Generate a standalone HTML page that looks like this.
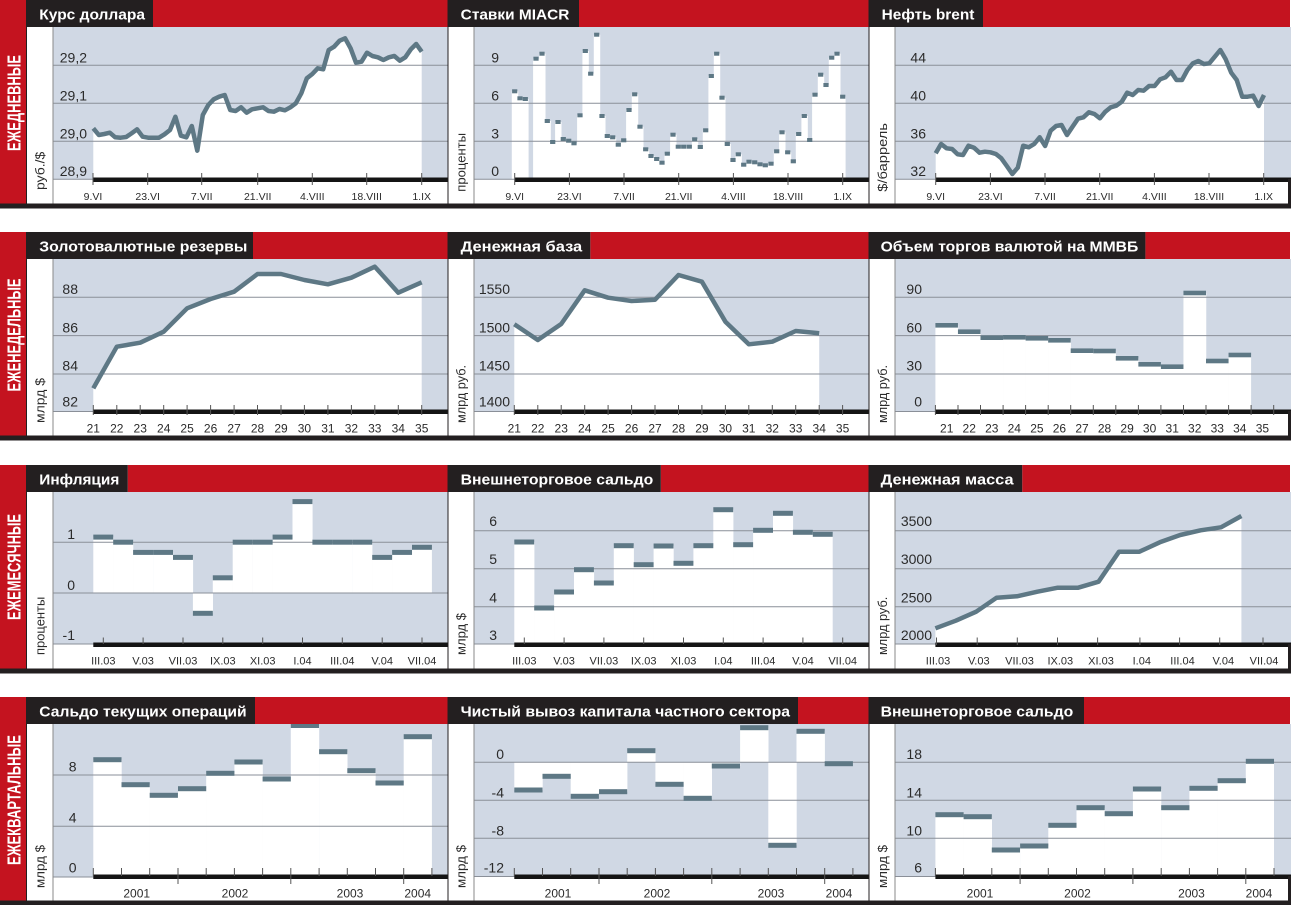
<!DOCTYPE html>
<html><head><meta charset="utf-8"><style>
html,body{margin:0;padding:0;background:#fff;}
svg{display:block;}
text{font-family:"Liberation Sans",sans-serif;}
.t{fill:#fff;font-weight:bold;font-size:15px;}
.s{fill:#fff;font-weight:bold;font-size:18px;}
.y{fill:#2b2b2b;font-size:14px;text-anchor:end;}
.u{fill:#2b2b2b;font-size:13px;}
.x1{fill:#2b2b2b;font-size:10.5px;text-anchor:middle;}
.x2{fill:#2b2b2b;font-size:12px;text-anchor:middle;}
.x3{fill:#2b2b2b;font-size:11px;text-anchor:middle;}
.x4{fill:#2b2b2b;font-size:12px;text-anchor:middle;}
</style></head><body>
<svg width="1291" height="905" viewBox="0 0 1291 905" xmlns="http://www.w3.org/2000/svg">
<rect width="1291" height="905" fill="#fff"/>

<!-- ================= ROW FRAMES ================= -->
<g fill="#d0d8e4">
<rect x="53" y="27" width="394.5" height="152.5"/>
<rect x="474" y="27" width="394.5" height="152.5"/>
<rect x="895" y="27" width="396" height="152.5"/>
<rect x="53" y="259" width="394.5" height="152.5"/>
<rect x="474" y="259" width="394.5" height="152.5"/>
<rect x="895" y="259" width="396" height="152.5"/>
<rect x="53" y="492" width="394.5" height="152.5"/>
<rect x="474" y="492" width="394.5" height="152.5"/>
<rect x="895" y="492" width="396" height="152.5"/>
<rect x="53" y="724" width="394.5" height="152.5"/>
<rect x="474" y="724" width="394.5" height="152.5"/>
<rect x="895" y="724" width="396" height="152.5"/>
</g>

<!-- ================= WHITE FILLS ================= -->
<g fill="#fff">
<!-- R1C1 -->
<polygon points="93.3,128.3 98.8,135 104.3,134 109.8,132.7 115.2,137.3 120.7,137.7 126.2,137 131.6,133.3 137.1,129.3 142.6,136.7 148.1,137.7 153.5,137.7 159,137.7 164.5,134.3 170,130 175.4,116.7 180.9,135.7 186.4,137.3 191.8,126 197.3,150.7 202.8,115 208.3,105 213.7,99.3 219.2,96.7 224.7,95 230.2,110 235.6,111 241.1,107.3 246.6,112.7 252,109.3 257.5,108.3 263,107.3 268.5,111 273.9,111.7 279.4,109 284.9,110.3 290.4,107.3 295.8,103.3 301.3,93.3 306.8,78.3 312.3,74 317.7,68.3 323.2,69.3 328.7,50 334.1,46.7 339.6,40.7 345.1,38.3 350.6,48.3 356,62.7 361.5,61.7 367,52.7 372.4,56 377.9,57.3 383.4,60 388.9,57.3 394.3,56 399.8,60.7 405.3,57.3 410.8,49.3 416.2,44 421.7,51.7 421.7,179 93.3,179"/>
<!-- R1C2 -->
<rect x="511.8" y="91.3" width="6.4" height="87.7"/><rect x="517.1" y="98.3" width="6.4" height="80.7"/><rect x="522.4" y="99" width="6.2" height="80"/>
<rect x="533.1" y="58.7" width="6.4" height="120.3"/><rect x="539.1" y="53.7" width="6.4" height="125.3"/><rect x="544.4" y="121" width="6.4" height="58"/>
<rect x="549.8" y="142" width="6.4" height="37"/><rect x="555.1" y="122" width="6.4" height="57"/><rect x="560.4" y="139" width="6.4" height="40"/>
<rect x="565.8" y="140.7" width="6.4" height="38.3"/><rect x="571.1" y="143.3" width="6.4" height="35.7"/><rect x="577.1" y="115.3" width="6.4" height="63.7"/>
<rect x="582.4" y="51" width="6.4" height="128"/><rect x="587.8" y="73.7" width="6.4" height="105.3"/><rect x="593.8" y="34.7" width="6.4" height="144.3"/>
<rect x="599.1" y="116" width="6.4" height="63"/><rect x="604.4" y="136" width="6.4" height="43"/><rect x="609.8" y="137.3" width="6.4" height="41.7"/>
<rect x="615.4" y="144.7" width="6.4" height="34.3"/><rect x="620.8" y="140.3" width="6.4" height="38.7"/><rect x="626.1" y="110" width="6.4" height="69"/>
<rect x="631.8" y="94.3" width="6.4" height="84.7"/><rect x="637.1" y="126.7" width="6.4" height="52.3"/><rect x="642.8" y="149.3" width="6.4" height="29.7"/>
<rect x="648.1" y="156" width="6.4" height="23"/><rect x="653.8" y="159" width="6.4" height="20"/><rect x="659.1" y="162.7" width="6.4" height="16.3"/>
<rect x="664.4" y="153.7" width="6.4" height="25.3"/><rect x="670.1" y="134.7" width="6.4" height="44.3"/><rect x="675.4" y="146.7" width="6.4" height="32.3"/>
<rect x="680.8" y="146.7" width="6.4" height="32.3"/><rect x="686.4" y="146.7" width="6.4" height="32.3"/><rect x="691.8" y="139.3" width="6.4" height="39.7"/>
<rect x="697.4" y="147" width="6.4" height="32"/><rect x="702.8" y="130.3" width="6.4" height="48.7"/><rect x="708.4" y="76" width="6.4" height="103"/>
<rect x="713.8" y="53.7" width="6.4" height="125.3"/><rect x="719.1" y="97.7" width="6.4" height="81.3"/><rect x="724.4" y="144" width="6.4" height="35"/>
<rect x="730.1" y="160" width="6.4" height="19"/><rect x="735.4" y="154.3" width="6.4" height="24.7"/><rect x="740.8" y="164.7" width="6.4" height="14.3"/>
<rect x="746.1" y="161.7" width="6.4" height="17.3"/><rect x="751.8" y="162.3" width="6.4" height="16.7"/><rect x="757.1" y="164.3" width="6.4" height="14.7"/>
<rect x="762.4" y="165.3" width="6.4" height="13.7"/><rect x="768.1" y="163.7" width="6.4" height="15.3"/><rect x="773.8" y="151.3" width="6.4" height="27.7"/>
<rect x="779.1" y="132.3" width="6.4" height="46.7"/><rect x="784.8" y="152.3" width="6.4" height="26.7"/><rect x="790.4" y="161.3" width="6.4" height="17.7"/>
<rect x="795.8" y="134" width="6.4" height="45"/><rect x="801.4" y="116" width="6.4" height="63"/><rect x="806.8" y="140" width="6.4" height="39"/>
<rect x="812.1" y="94.7" width="6.4" height="84.3"/><rect x="817.8" y="74.7" width="6.4" height="104.3"/><rect x="823.1" y="85" width="6.4" height="94"/>
<rect x="828.8" y="57.7" width="6.4" height="121.3"/><rect x="834.1" y="53.7" width="6.4" height="125.3"/><rect x="839.8" y="96.7" width="5.8" height="82.3"/>
<!-- R1C3 -->
<polygon points="935.7,153.3 941.1,144 946.6,148.3 952.1,149 957.6,154.3 963,155 968.5,145.7 974,147.7 979.5,152.7 984.9,151.7 990.4,152.3 995.9,154 1001.3,158.3 1006.8,166 1012.3,174 1017.8,167.7 1023.2,145.7 1028.7,147.3 1034.2,144 1039.7,137.3 1045.1,146 1050.6,130.7 1056.1,126 1061.5,125 1067,135 1072.5,126.7 1078,118.7 1083.4,117.3 1088.9,112.3 1094.4,114 1099.9,118.3 1105.3,111.7 1110.8,107.3 1116.3,105.7 1121.8,101.7 1127.2,92.7 1132.7,95 1138.2,90 1143.6,90.7 1149.1,86 1154.6,86 1160.1,79.3 1165.5,77.3 1171,71.7 1176.5,80 1182,80 1187.4,70 1192.9,63.3 1198.4,61 1203.9,64 1209.3,63.3 1214.8,56.7 1220.3,50 1225.7,59.3 1231.2,72.7 1236.7,80 1242.2,96.7 1247.6,96.7 1253.1,95.7 1258.6,106 1264,95 1264,179 935.7,179"/>
<!-- R2C1 -->
<polygon points="93.3,388.3 116.8,346.7 140.2,342.7 163.7,331.7 187.1,308.3 210.6,299 234.1,291.7 257.5,274 281,274 304.4,280 327.9,284.3 351.4,277.7 374.8,266.7 398.3,292.7 421.7,282.3 421.7,411 93.3,411"/>
<!-- R2C2 -->
<polygon points="514.3,324.3 537.8,340 561.2,324 584.7,290.3 608.1,297.7 631.6,301 655,299.7 678.5,275 701.9,281.7 725.4,321.7 748.8,344.3 772.3,341.7 795.7,331 819.2,333.3 819.2,411 514.3,411"/>
<!-- R2C3 -->
<rect x="935.4" y="325.3" width="22.8" height="86.2"/><rect x="957.95" y="331.7" width="22.8" height="79.8"/><rect x="980.5" y="337.7" width="22.8" height="73.8"/>
<rect x="1003.05" y="337.3" width="22.8" height="74.2"/><rect x="1025.6" y="338.3" width="22.8" height="73.2"/><rect x="1048.15" y="340.3" width="22.8" height="71.2"/>
<rect x="1070.7" y="350.7" width="22.8" height="60.8"/><rect x="1093.25" y="351" width="22.8" height="60.5"/><rect x="1115.8" y="358.3" width="22.8" height="53.2"/>
<rect x="1138.35" y="364.3" width="22.8" height="47.2"/><rect x="1160.9" y="366.7" width="22.8" height="44.8"/><rect x="1183.45" y="293" width="22.8" height="118.5"/>
<rect x="1206" y="361" width="22.8" height="50.5"/><rect x="1228.55" y="355" width="22.55" height="56.5"/>
<!-- R3C1 -->
<rect x="93.3" y="537.1" width="20.1" height="55.9"/><rect x="113.2" y="542.2" width="20.1" height="50.8"/><rect x="133.1" y="552.4" width="20.1" height="40.6"/>
<rect x="153.1" y="552.4" width="20.1" height="40.6"/><rect x="173" y="557.4" width="20.1" height="35.6"/><rect x="192.9" y="593" width="20.1" height="20.3"/>
<rect x="212.8" y="577.8" width="20.1" height="15.2"/><rect x="232.7" y="542.2" width="20.1" height="50.8"/><rect x="252.7" y="542.2" width="20.1" height="50.8"/>
<rect x="272.6" y="537.1" width="20.1" height="55.9"/><rect x="292.5" y="501.6" width="20.1" height="91.4"/><rect x="312.4" y="542.2" width="20.1" height="50.8"/>
<rect x="332.3" y="542.2" width="20.1" height="50.8"/><rect x="352.3" y="542.2" width="20.1" height="50.8"/><rect x="372.2" y="557.4" width="20.1" height="35.6"/>
<rect x="392.1" y="552.4" width="20.1" height="40.6"/><rect x="412" y="547.3" width="19.9" height="45.7"/>
<!-- R3C2 -->
<rect x="514.3" y="542" width="20.1" height="102"/><rect x="534.2" y="608" width="20.1" height="36"/><rect x="554.1" y="592" width="20.1" height="52"/>
<rect x="574" y="569.7" width="20.1" height="74.3"/><rect x="593.9" y="583" width="20.1" height="61"/><rect x="613.8" y="545.7" width="20.1" height="98.3"/>
<rect x="633.7" y="564.7" width="20.1" height="79.3"/><rect x="653.6" y="546" width="20.1" height="98"/><rect x="673.5" y="563.3" width="20.1" height="80.7"/>
<rect x="693.4" y="545.7" width="20.1" height="98.3"/><rect x="713.3" y="509.7" width="20.1" height="134.3"/><rect x="733.2" y="544.7" width="20.1" height="99.3"/>
<rect x="753.1" y="530.3" width="20.1" height="113.7"/><rect x="773" y="513.3" width="20.1" height="130.7"/><rect x="792.9" y="532.3" width="20.1" height="111.7"/>
<rect x="812.8" y="534.3" width="19.9" height="109.7"/>
<!-- R3C3 -->
<polygon points="935.4,628.3 955.8,620.7 976.2,611.7 996.6,597.7 1017,596.3 1037.4,591.7 1057.8,587.7 1078.2,587.7 1098.6,581.7 1119,551.7 1139.4,551.7 1159.8,542.3 1180.2,535 1200.6,530.3 1221,527.3 1241.4,516 1241.4,644 935.4,644"/>
<!-- R4C1 -->
<rect x="93.3" y="759.7" width="28.4" height="117.3"/><rect x="121.5" y="784.7" width="28.4" height="92.3"/><rect x="149.7" y="795.3" width="28.4" height="81.7"/>
<rect x="178" y="788.7" width="28.4" height="88.3"/><rect x="206.2" y="773.3" width="28.4" height="103.7"/><rect x="234.4" y="762" width="28.4" height="115"/>
<rect x="262.6" y="779" width="28.4" height="98"/><rect x="290.8" y="725.5" width="28.4" height="151.5"/><rect x="319.1" y="751.7" width="28.4" height="125.3"/>
<rect x="347.3" y="770.7" width="28.4" height="106.3"/><rect x="375.5" y="783" width="28.4" height="94"/><rect x="403.7" y="736.7" width="28.2" height="140.3"/>
<!-- R4C2 -->
<rect x="514.3" y="762.3" width="28.4" height="27.7"/><rect x="542.5" y="762.3" width="28.4" height="14"/><rect x="570.7" y="762.3" width="28.4" height="34"/>
<rect x="599" y="762.3" width="28.4" height="29.4"/><rect x="627.2" y="750.7" width="28.4" height="11.6"/><rect x="655.4" y="762.3" width="28.4" height="22"/>
<rect x="683.6" y="762.3" width="28.4" height="36"/><rect x="711.8" y="762.3" width="28.4" height="3.7"/><rect x="740.1" y="727.7" width="28.4" height="34.6"/>
<rect x="768.3" y="762.3" width="28.4" height="83"/><rect x="796.5" y="731.3" width="28.4" height="31"/><rect x="824.7" y="762.3" width="28.2" height="1.4"/>
<!-- R4C3 -->
<rect x="935.4" y="814.7" width="28.4" height="61.8"/><rect x="963.6" y="816.7" width="28.4" height="59.8"/><rect x="991.8" y="850" width="28.4" height="26.5"/>
<rect x="1020.1" y="846" width="28.4" height="30.5"/><rect x="1048.3" y="825.3" width="28.4" height="51.2"/><rect x="1076.5" y="807.7" width="28.4" height="68.8"/>
<rect x="1104.7" y="813.7" width="28.4" height="62.8"/><rect x="1132.9" y="789" width="28.4" height="87.5"/><rect x="1161.2" y="807.7" width="28.4" height="68.8"/>
<rect x="1189.4" y="788.3" width="28.4" height="88.2"/><rect x="1217.6" y="780.7" width="28.4" height="95.8"/><rect x="1245.8" y="761.3" width="28.2" height="115.2"/>
</g>

<!-- ================= GRID LINES ================= -->
<g stroke="#8a8f98" stroke-width="1" fill="none">
<path d="M53 65.3H447.5M53 103.3H447.5M53 141.3H447.5M53 179.3H447.5"/>
<path d="M474 65.3H868.5M474 103.3H868.5M474 141.3H868.5M474 179.3H868.5"/>
<path d="M895 65.3H1291M895 103.3H1291M895 141.3H1291M895 179.3H1291"/>
<path d="M53 297.3H447.5M53 335.6H447.5M53 374H447.5M53 411.5H447.5"/>
<path d="M474 297.3H868.5M474 335.6H868.5M474 374H868.5M474 411.5H868.5"/>
<path d="M895 297.3H1291M895 335.6H1291M895 374H1291M895 411.5H1291"/>
<path d="M53 542.3H447.5M53 593H447.5M53 644H447.5"/>
<path d="M474 530.7H868.5M474 568.7H868.5M474 606.7H868.5M474 644H868.5"/>
<path d="M895 530.7H1291M895 568.7H1291M895 606.7H1291M895 644H1291"/>
<path d="M53 775H447.5M53 826.3H447.5M53 877H447.5"/>
<path d="M474 762.3H868.5M474 800.3H868.5M474 838.3H868.5M474 876.5H868.5"/>
<path d="M895 762.3H1291M895 800.3H1291M895 838.3H1291M895 876.5H1291"/>
</g>

<!-- ================= AXIS BARS ================= -->
<g fill="#141414">
<rect x="93.3" y="177.5" width="354.2" height="4.5"/>
<rect x="514.7" y="177.5" width="353.8" height="4.5"/>
<rect x="935.7" y="177.5" width="355.3" height="4.5"/>
<rect x="93.3" y="409.5" width="354.2" height="4.5"/>
<rect x="514.3" y="409.5" width="354.2" height="4.5"/>
<rect x="935.4" y="409.5" width="355.6" height="4.5"/>
<rect x="93.3" y="642.5" width="354.2" height="4.5"/>
<rect x="514.3" y="642.5" width="354.2" height="4.5"/>
<rect x="935.4" y="642.5" width="355.6" height="4.5"/>
<rect x="93.3" y="874.5" width="354.2" height="4.5"/>
<rect x="514.3" y="874.5" width="354.2" height="4.5"/>
<rect x="935.4" y="874.5" width="355.6" height="4.5"/>
</g>

<!-- ================= TICKS ================= -->
<g stroke="#555" stroke-width="1" fill="none">
<path d="M93 173V185M147.7 173V185M201.7 173V185M257.7 173V185M312.3 173V185M366.7 173V185M421.7 173V185"/>
<path d="M514.7 173V185M569.4 173V185M624 173V185M678.7 173V185M733.4 173V185M788 173V185M842.7 173V185"/>
<path d="M935.7 173V185M990.4 173V185M1045 173V185M1099.7 173V185M1154.4 173V185M1209 173V185M1263.7 173V185"/>
<path d="M93.3 405V415M116.8 405V415M140.2 405V415M163.7 405V415M187.1 405V415M210.6 405V415M234.1 405V415M257.5 405V415M281 405V415M304.4 405V415M327.9 405V415M351.4 405V415M374.8 405V415M398.3 405V415M421.7 405V415"/>
<path d="M514.3 405V415M537.8 405V415M561.2 405V415M584.7 405V415M608.1 405V415M631.6 405V415M655 405V415M678.5 405V415M701.9 405V415M725.4 405V415M748.8 405V415M772.3 405V415M795.7 405V415M819.2 405V415M842.6 405V415"/>
<path d="M935.4 405V415M958 405V415M980.5 405V415M1003.1 405V415M1025.6 405V415M1048.2 405V415M1070.7 405V415M1093.3 405V415M1115.8 405V415M1138.4 405V415M1160.9 405V415M1183.5 405V415M1206 405V415M1228.6 405V415M1251.1 405V415M1273.7 405V415"/>
<path d="M103.3 637.5V644M143.1 637.5V644M183 637.5V644M222.8 637.5V644M262.7 637.5V644M302.5 637.5V644M342.3 637.5V644M382.2 637.5V644M422 637.5V644"/>
<path d="M524.3 637.5V644M564.1 637.5V644M603.9 637.5V644M643.7 637.5V644M683.5 637.5V644M723.3 637.5V644M763.1 637.5V644M802.9 637.5V644M842.7 637.5V644"/>
<path d="M936.5 637.5V645M977.2 637.5V645M1017.3 637.5V645M1057.5 637.5V645M1097.6 637.5V645M1139.9 637.5V645M1179.6 637.5V645M1219.7 637.5V645M1263 637.5V645"/>
<path d="M93.3 868V876M121.5 868V876M149.7 868V876M178 868V884M206.2 868V876M234.4 868V876M262.6 868V876M290.8 868V884M319.1 868V876M347.3 868V876M375.5 868V876M403.7 868V884M431.9 868V876"/>
<path d="M514.3 868V876M542.5 868V876M570.7 868V876M599 868V884M627.2 868V876M655.4 868V876M683.6 868V876M711.8 868V884M740.1 868V876M768.3 868V876M796.5 868V876M824.7 868V884M852.9 868V876"/>
<path d="M935.4 868V876M963.6 868V876M991.8 868V876M1020.1 868V884M1048.3 868V876M1076.5 868V876M1104.7 868V876M1132.9 868V884M1161.2 868V876M1189.4 868V876M1217.6 868V876M1245.8 868V884M1274 868V876"/>
</g>

<!-- ================= DATA LINES ================= -->
<g stroke="#5e7885" stroke-width="4.5" fill="none" stroke-linejoin="round" stroke-linecap="butt">
<polyline points="93.3,128.3 98.8,135 104.3,134 109.8,132.7 115.2,137.3 120.7,137.7 126.2,137 131.6,133.3 137.1,129.3 142.6,136.7 148.1,137.7 153.5,137.7 159,137.7 164.5,134.3 170,130 175.4,116.7 180.9,135.7 186.4,137.3 191.8,126 197.3,150.7 202.8,115 208.3,105 213.7,99.3 219.2,96.7 224.7,95 230.2,110 235.6,111 241.1,107.3 246.6,112.7 252,109.3 257.5,108.3 263,107.3 268.5,111 273.9,111.7 279.4,109 284.9,110.3 290.4,107.3 295.8,103.3 301.3,93.3 306.8,78.3 312.3,74 317.7,68.3 323.2,69.3 328.7,50 334.1,46.7 339.6,40.7 345.1,38.3 350.6,48.3 356,62.7 361.5,61.7 367,52.7 372.4,56 377.9,57.3 383.4,60 388.9,57.3 394.3,56 399.8,60.7 405.3,57.3 410.8,49.3 416.2,44 421.7,51.7"/>
<polyline points="935.7,153.3 941.1,144 946.6,148.3 952.1,149 957.6,154.3 963,155 968.5,145.7 974,147.7 979.5,152.7 984.9,151.7 990.4,152.3 995.9,154 1001.3,158.3 1006.8,166 1012.3,174 1017.8,167.7 1023.2,145.7 1028.7,147.3 1034.2,144 1039.7,137.3 1045.1,146 1050.6,130.7 1056.1,126 1061.5,125 1067,135 1072.5,126.7 1078,118.7 1083.4,117.3 1088.9,112.3 1094.4,114 1099.9,118.3 1105.3,111.7 1110.8,107.3 1116.3,105.7 1121.8,101.7 1127.2,92.7 1132.7,95 1138.2,90 1143.6,90.7 1149.1,86 1154.6,86 1160.1,79.3 1165.5,77.3 1171,71.7 1176.5,80 1182,80 1187.4,70 1192.9,63.3 1198.4,61 1203.9,64 1209.3,63.3 1214.8,56.7 1220.3,50 1225.7,59.3 1231.2,72.7 1236.7,80 1242.2,96.7 1247.6,96.7 1253.1,95.7 1258.6,106 1264,95"/>
<polyline points="93.3,388.3 116.8,346.7 140.2,342.7 163.7,331.7 187.1,308.3 210.6,299 234.1,291.7 257.5,274 281,274 304.4,280 327.9,284.3 351.4,277.7 374.8,266.7 398.3,292.7 421.7,282.3"/>
<polyline points="514.3,324.3 537.8,340 561.2,324 584.7,290.3 608.1,297.7 631.6,301 655,299.7 678.5,275 701.9,281.7 725.4,321.7 748.8,344.3 772.3,341.7 795.7,331 819.2,333.3"/>
<polyline points="935.4,628.3 955.8,620.7 976.2,611.7 996.6,597.7 1017,596.3 1037.4,591.7 1057.8,587.7 1078.2,587.7 1098.6,581.7 1119,551.7 1139.4,551.7 1159.8,542.3 1180.2,535 1200.6,530.3 1221,527.3 1241.4,516"/>
</g>

<!-- ================= DASHES / STEP BARS ================= -->
<g fill="#5e7885">
<!-- R1C2 -->
<rect x="512.1" y="89.3" width="5.2" height="4"/><rect x="517.4" y="96.3" width="5.2" height="4"/><rect x="522.7" y="97" width="5.2" height="4"/>
<rect x="533.4" y="56.7" width="5.2" height="4"/><rect x="539.4" y="51.7" width="5.2" height="4"/><rect x="544.7" y="119" width="5.2" height="4"/>
<rect x="550.1" y="140" width="5.2" height="4"/><rect x="555.4" y="120" width="5.2" height="4"/><rect x="560.7" y="137" width="5.2" height="4"/>
<rect x="566.1" y="138.7" width="5.2" height="4"/><rect x="571.4" y="141.3" width="5.2" height="4"/><rect x="577.4" y="113.3" width="5.2" height="4"/>
<rect x="582.7" y="49" width="5.2" height="4"/><rect x="588.1" y="71.7" width="5.2" height="4"/><rect x="594.1" y="32.7" width="5.2" height="4"/>
<rect x="599.4" y="114" width="5.2" height="4"/><rect x="604.7" y="134" width="5.2" height="4"/><rect x="610.1" y="135.3" width="5.2" height="4"/>
<rect x="615.7" y="142.7" width="5.2" height="4"/><rect x="621.1" y="138.3" width="5.2" height="4"/><rect x="626.4" y="108" width="5.2" height="4"/>
<rect x="632.1" y="92.3" width="5.2" height="4"/><rect x="637.4" y="124.7" width="5.2" height="4"/><rect x="643.1" y="147.3" width="5.2" height="4"/>
<rect x="648.4" y="154" width="5.2" height="4"/><rect x="654.1" y="157" width="5.2" height="4"/><rect x="659.4" y="160.7" width="5.2" height="4"/>
<rect x="664.7" y="151.7" width="5.2" height="4"/><rect x="670.4" y="132.7" width="5.2" height="4"/><rect x="675.7" y="144.7" width="5.2" height="4"/>
<rect x="681.1" y="144.7" width="5.2" height="4"/><rect x="686.7" y="144.7" width="5.2" height="4"/><rect x="692.1" y="137.3" width="5.2" height="4"/>
<rect x="697.7" y="145" width="5.2" height="4"/><rect x="703.1" y="128.3" width="5.2" height="4"/><rect x="708.7" y="74" width="5.2" height="4"/>
<rect x="714.1" y="51.7" width="5.2" height="4"/><rect x="719.4" y="95.7" width="5.2" height="4"/><rect x="724.7" y="142" width="5.2" height="4"/>
<rect x="730.4" y="158" width="5.2" height="4"/><rect x="735.7" y="152.3" width="5.2" height="4"/><rect x="741.1" y="162.7" width="5.2" height="4"/>
<rect x="746.4" y="159.7" width="5.2" height="4"/><rect x="752.1" y="160.3" width="5.2" height="4"/><rect x="757.4" y="162.3" width="5.2" height="4"/>
<rect x="762.7" y="163.3" width="5.2" height="4"/><rect x="768.4" y="161.7" width="5.2" height="4"/><rect x="774.1" y="149.3" width="5.2" height="4"/>
<rect x="779.4" y="130.3" width="5.2" height="4"/><rect x="785.1" y="150.3" width="5.2" height="4"/><rect x="790.7" y="159.3" width="5.2" height="4"/>
<rect x="796.1" y="132" width="5.2" height="4"/><rect x="801.7" y="114" width="5.2" height="4"/><rect x="807.1" y="138" width="5.2" height="4"/>
<rect x="812.4" y="92.7" width="5.2" height="4"/><rect x="818.1" y="72.7" width="5.2" height="4"/><rect x="823.4" y="83" width="5.2" height="4"/>
<rect x="829.1" y="55.7" width="5.2" height="4"/><rect x="834.4" y="51.7" width="5.2" height="4"/><rect x="840.1" y="94.7" width="5.2" height="4"/>
<!-- R2C3 -->
<rect x="935.4" y="323" width="22.55" height="4.6"/><rect x="957.95" y="329.4" width="22.55" height="4.6"/><rect x="980.5" y="335.4" width="22.55" height="4.6"/>
<rect x="1003.05" y="335" width="22.55" height="4.6"/><rect x="1025.6" y="336" width="22.55" height="4.6"/><rect x="1048.15" y="338" width="22.55" height="4.6"/>
<rect x="1070.7" y="348.4" width="22.55" height="4.6"/><rect x="1093.25" y="348.7" width="22.55" height="4.6"/><rect x="1115.8" y="356" width="22.55" height="4.6"/>
<rect x="1138.35" y="362" width="22.55" height="4.6"/><rect x="1160.9" y="364.4" width="22.55" height="4.6"/><rect x="1183.45" y="290.7" width="22.55" height="4.6"/>
<rect x="1206" y="358.7" width="22.55" height="4.6"/><rect x="1228.55" y="352.7" width="22.55" height="4.6"/>
<!-- R3C1 -->
<rect x="93.3" y="534.6" width="19.92" height="5"/><rect x="113.2" y="539.7" width="19.92" height="5"/><rect x="133.1" y="549.9" width="19.92" height="5"/>
<rect x="153.1" y="549.9" width="19.92" height="5"/><rect x="173" y="554.9" width="19.92" height="5"/><rect x="192.9" y="610.8" width="19.92" height="5"/>
<rect x="212.8" y="575.3" width="19.92" height="5"/><rect x="232.7" y="539.7" width="19.92" height="5"/><rect x="252.7" y="539.7" width="19.92" height="5"/>
<rect x="272.6" y="534.6" width="19.92" height="5"/><rect x="292.5" y="499.1" width="19.92" height="5"/><rect x="312.4" y="539.7" width="19.92" height="5"/>
<rect x="332.3" y="539.7" width="19.92" height="5"/><rect x="352.3" y="539.7" width="19.92" height="5"/><rect x="372.2" y="554.9" width="19.92" height="5"/>
<rect x="392.1" y="549.9" width="19.92" height="5"/><rect x="412" y="544.8" width="19.92" height="5"/>
<!-- R3C2 -->
<rect x="514.3" y="539.5" width="19.9" height="5"/><rect x="534.2" y="605.5" width="19.9" height="5"/><rect x="554.1" y="589.5" width="19.9" height="5"/>
<rect x="574" y="567.2" width="19.9" height="5"/><rect x="593.9" y="580.5" width="19.9" height="5"/><rect x="613.8" y="543.2" width="19.9" height="5"/>
<rect x="633.7" y="562.2" width="19.9" height="5"/><rect x="653.6" y="543.5" width="19.9" height="5"/><rect x="673.5" y="560.8" width="19.9" height="5"/>
<rect x="693.4" y="543.2" width="19.9" height="5"/><rect x="713.3" y="507.2" width="19.9" height="5"/><rect x="733.2" y="542.2" width="19.9" height="5"/>
<rect x="753.1" y="527.8" width="19.9" height="5"/><rect x="773" y="510.8" width="19.9" height="5"/><rect x="792.9" y="529.8" width="19.9" height="5"/>
<rect x="812.8" y="531.8" width="19.9" height="5"/>
<!-- R4C1 -->
<rect x="93.3" y="757.2" width="28.22" height="5"/><rect x="121.5" y="782.2" width="28.22" height="5"/><rect x="149.7" y="792.8" width="28.22" height="5"/>
<rect x="178" y="786.2" width="28.22" height="5"/><rect x="206.2" y="770.8" width="28.22" height="5"/><rect x="234.4" y="759.5" width="28.22" height="5"/>
<rect x="262.6" y="776.5" width="28.22" height="5"/><rect x="290.8" y="723" width="28.22" height="5"/><rect x="319.1" y="749.2" width="28.22" height="5"/>
<rect x="347.3" y="768.2" width="28.22" height="5"/><rect x="375.5" y="780.5" width="28.22" height="5"/><rect x="403.7" y="734.2" width="28.22" height="5"/>
<!-- R4C2 -->
<rect x="514.3" y="787.5" width="28.22" height="5"/><rect x="542.5" y="773.8" width="28.22" height="5"/><rect x="570.7" y="793.8" width="28.22" height="5"/>
<rect x="599" y="789.2" width="28.22" height="5"/><rect x="627.2" y="748.2" width="28.22" height="5"/><rect x="655.4" y="781.8" width="28.22" height="5"/>
<rect x="683.6" y="795.8" width="28.22" height="5"/><rect x="711.8" y="763.5" width="28.22" height="5"/><rect x="740.1" y="725.2" width="28.22" height="5"/>
<rect x="768.3" y="842.8" width="28.22" height="5"/><rect x="796.5" y="728.8" width="28.22" height="5"/><rect x="824.7" y="761.2" width="28.22" height="5"/>
<!-- R4C3 -->
<rect x="935.4" y="812.2" width="28.22" height="5"/><rect x="963.6" y="814.2" width="28.22" height="5"/><rect x="991.8" y="847.5" width="28.22" height="5"/>
<rect x="1020.1" y="843.5" width="28.22" height="5"/><rect x="1048.3" y="822.8" width="28.22" height="5"/><rect x="1076.5" y="805.2" width="28.22" height="5"/>
<rect x="1104.7" y="811.2" width="28.22" height="5"/><rect x="1132.9" y="786.5" width="28.22" height="5"/><rect x="1161.2" y="805.2" width="28.22" height="5"/>
<rect x="1189.4" y="785.8" width="28.22" height="5"/><rect x="1217.6" y="778.2" width="28.22" height="5"/><rect x="1245.8" y="758.8" width="28.22" height="5"/>
</g>

<!-- ================= FRAMES: red strips, bottoms, separators ================= -->
<g fill="#c4131f">
<rect x="0" y="0" width="26" height="203.5"/>
<rect x="0" y="232" width="26" height="203.5"/>
<rect x="0" y="465" width="26" height="203.5"/>
<rect x="0" y="697" width="26" height="203.5"/>
</g>
<g fill="#231f20">
<rect x="0" y="203.5" width="1291" height="5"/>
<rect x="0" y="435.5" width="1291" height="5"/>
<rect x="0" y="668.5" width="1291" height="5"/>
<rect x="0" y="900.5" width="1291" height="4.5"/>
<rect x="26" y="0" width="1" height="208"/>
<rect x="26" y="232" width="1" height="208"/>
<rect x="26" y="465" width="1" height="208"/>
<rect x="26" y="697" width="1" height="208"/>
<rect x="447.5" y="0" width="1" height="208"/>
<rect x="447.5" y="232" width="1" height="208"/>
<rect x="447.5" y="465" width="1" height="208"/>
<rect x="447.5" y="697" width="1" height="208"/>
<rect x="868.5" y="0" width="1" height="208"/>
<rect x="868.5" y="232" width="1" height="208"/>
<rect x="868.5" y="465" width="1" height="208"/>
<rect x="868.5" y="697" width="1" height="208"/>
<rect x="1288" y="179" width="3" height="29"/>
<rect x="1288" y="411" width="3" height="29"/>
<rect x="1288" y="644" width="3" height="29"/>
<rect x="1288" y="876" width="3" height="29"/>
</g>
<!-- y-label column separator lines -->
<g fill="#8a8a8a">
<rect x="52.5" y="27" width="1" height="176.5"/><rect x="473.5" y="27" width="1" height="176.5"/><rect x="894.5" y="27" width="1" height="176.5"/>
<rect x="52.5" y="259" width="1" height="176.5"/><rect x="473.5" y="259" width="1" height="176.5"/><rect x="894.5" y="259" width="1" height="176.5"/>
<rect x="52.5" y="492" width="1" height="176.5"/><rect x="473.5" y="492" width="1" height="176.5"/><rect x="894.5" y="492" width="1" height="176.5"/>
<rect x="52.5" y="724" width="1" height="176.5"/><rect x="473.5" y="724" width="1" height="176.5"/><rect x="894.5" y="724" width="1" height="176.5"/>
</g>

<!-- ================= TITLE BARS ================= -->
<g fill="#c4131f">
<rect x="153" y="0" width="294.5" height="27"/><rect x="579" y="0" width="289.5" height="27"/><rect x="983" y="0" width="307" height="27"/>
<rect x="253" y="232" width="194.5" height="27"/><rect x="590.3" y="232" width="278.2" height="27"/><rect x="1145.4" y="232" width="144.6" height="27"/>
<rect x="127.7" y="465" width="319.8" height="27"/><rect x="660.8" y="465" width="207.7" height="27"/><rect x="1022.2" y="465" width="267.8" height="27"/>
<rect x="255" y="697" width="192.5" height="27"/><rect x="798" y="697" width="70.5" height="27"/><rect x="1084" y="697" width="206" height="27"/>
</g>
<g fill="#231f20">
<rect x="27" y="0" width="126" height="27"/><rect x="448.5" y="0" width="130.5" height="27"/><rect x="869.5" y="0" width="113.5" height="27"/>
<rect x="27" y="232" width="226" height="27"/><rect x="448.5" y="232" width="141.8" height="27"/><rect x="869.5" y="232" width="275.9" height="27"/>
<rect x="27" y="465" width="100.7" height="27"/><rect x="448.5" y="465" width="212.3" height="27"/><rect x="869.5" y="465" width="152.7" height="27"/>
<rect x="27" y="697" width="228" height="27"/><rect x="448.5" y="697" width="349.5" height="27"/><rect x="869.5" y="697" width="214.5" height="27"/>
</g>
<g class="tt">
<text class="t" x="39.3" y="19.5" textLength="105.7" lengthAdjust="spacingAndGlyphs">Курс доллара</text>
<text class="t" x="460.7" y="19.5" textLength="108.7" lengthAdjust="spacingAndGlyphs">Ставки MIACR</text>
<text class="t" x="881.7" y="19.5" textLength="92.7" lengthAdjust="spacingAndGlyphs">Нефть brent</text>
<text class="t" x="39.3" y="251.5" textLength="208" lengthAdjust="spacingAndGlyphs">Золотовалютные резервы</text>
<text class="t" x="460.6" y="251.5" textLength="121.6" lengthAdjust="spacingAndGlyphs">Денежная база</text>
<text class="t" x="880.6" y="251.5" textLength="257.7" lengthAdjust="spacingAndGlyphs">Объем торгов валютой на ММВБ</text>
<text class="t" x="39.3" y="484.5" textLength="80" lengthAdjust="spacingAndGlyphs">Инфляция</text>
<text class="t" x="460.6" y="484.5" textLength="192.6" lengthAdjust="spacingAndGlyphs">Внешнеторговое сальдо</text>
<text class="t" x="880.6" y="484.5" textLength="133" lengthAdjust="spacingAndGlyphs">Денежная масса</text>
<text class="t" x="39.3" y="716.5" textLength="207.4" lengthAdjust="spacingAndGlyphs">Сальдо текущих операций</text>
<text class="t" x="460.6" y="716.5" textLength="329.4" lengthAdjust="spacingAndGlyphs">Чистый вывоз капитала частного сектора</text>
<text class="t" x="880.6" y="716.5" textLength="192.6" lengthAdjust="spacingAndGlyphs">Внешнеторговое сальдо</text>
</g>

<!-- ================= RED STRIP LABELS ================= -->
<text class="s" transform="translate(20.5,103) rotate(-90)" x="-48" y="0" textLength="96" lengthAdjust="spacingAndGlyphs">ЕЖЕДНЕВНЫЕ</text>
<text class="s" transform="translate(20.5,335) rotate(-90)" x="-56.5" y="0" textLength="113" lengthAdjust="spacingAndGlyphs">ЕЖЕНЕДЕЛЬНЫЕ</text>
<text class="s" transform="translate(20.5,567) rotate(-90)" x="-53" y="0" textLength="106" lengthAdjust="spacingAndGlyphs">ЕЖЕМЕСЯЧНЫЕ</text>
<text class="s" transform="translate(20.5,800) rotate(-90)" x="-65" y="0" textLength="130" lengthAdjust="spacingAndGlyphs">ЕЖЕКВАРТАЛЬНЫЕ</text>

<!-- ================= Y UNIT LABELS ================= -->
<text class="u" transform="translate(44.5,190) rotate(-90)" textLength="38.3" lengthAdjust="spacingAndGlyphs">руб./$</text>
<text class="u" transform="translate(465.5,191.7) rotate(-90)" textLength="58.7" lengthAdjust="spacingAndGlyphs">проценты</text>
<text class="u" transform="translate(887,191.7) rotate(-90)" textLength="68.7" lengthAdjust="spacingAndGlyphs">$/баррель</text>
<text class="u" transform="translate(44.5,423) rotate(-90)" textLength="45" lengthAdjust="spacingAndGlyphs">млрд $</text>
<text class="u" transform="translate(465.5,423) rotate(-90)" textLength="58" lengthAdjust="spacingAndGlyphs">млрд руб.</text>
<text class="u" transform="translate(887,423) rotate(-90)" textLength="58" lengthAdjust="spacingAndGlyphs">млрд руб.</text>
<text class="u" transform="translate(44.5,655) rotate(-90)" textLength="58.3" lengthAdjust="spacingAndGlyphs">проценты</text>
<text class="u" transform="translate(465.5,655) rotate(-90)" textLength="42" lengthAdjust="spacingAndGlyphs">млрд $</text>
<text class="u" transform="translate(887,655) rotate(-90)" textLength="58.3" lengthAdjust="spacingAndGlyphs">млрд руб.</text>
<text class="u" transform="translate(44.5,888) rotate(-90)" textLength="43" lengthAdjust="spacingAndGlyphs">млрд $</text>
<text class="u" transform="translate(465.5,888) rotate(-90)" textLength="43" lengthAdjust="spacingAndGlyphs">млрд $</text>
<text class="u" transform="translate(887,888) rotate(-90)" textLength="43" lengthAdjust="spacingAndGlyphs">млрд $</text>

<!-- ================= Y VALUE LABELS ================= -->
<g class="yl">
<text class="y" x="87" y="62.7">29,2</text><text class="y" x="87" y="100.7">29,1</text><text class="y" x="87" y="138.7">29,0</text><text class="y" x="87" y="176">28,9</text>
<text class="y" x="499" y="62.7">9</text><text class="y" x="499" y="100.7">6</text><text class="y" x="499" y="138.7">3</text><text class="y" x="499" y="176">0</text>
<text class="y" x="926" y="62.7">44</text><text class="y" x="926" y="100.7">40</text><text class="y" x="926" y="138.7">36</text><text class="y" x="926" y="176">32</text>
<text class="y" x="78" y="294">88</text><text class="y" x="78" y="332.3">86</text><text class="y" x="78" y="370.7">84</text><text class="y" x="78" y="406.7">82</text>
<text class="y" x="510" y="294">1550</text><text class="y" x="510" y="332.3">1500</text><text class="y" x="510" y="370.7">1450</text><text class="y" x="510" y="406.7">1400</text>
<text class="y" x="922" y="294">90</text><text class="y" x="922" y="332.3">60</text><text class="y" x="922" y="370.7">30</text><text class="y" x="922" y="406.7">0</text>
<text class="y" x="75" y="539">1</text><text class="y" x="75" y="590">0</text><text class="y" x="75" y="640">-1</text>
<text class="y" x="497" y="526">6</text><text class="y" x="497" y="564">5</text><text class="y" x="497" y="602.3">4</text><text class="y" x="497" y="640">3</text>
<text class="y" x="932" y="526">3500</text><text class="y" x="932" y="564">3000</text><text class="y" x="932" y="602.3">2500</text><text class="y" x="932" y="640">2000</text>
<text class="y" x="76.5" y="771.7">8</text><text class="y" x="76.5" y="822.3">4</text><text class="y" x="76.5" y="872.3">0</text>
<text class="y" x="504" y="759">0</text><text class="y" x="504" y="797.3">-4</text><text class="y" x="504" y="835.7">-8</text><text class="y" x="504" y="872.3">-12</text>
<text class="y" x="922" y="759">18</text><text class="y" x="922" y="797.3">14</text><text class="y" x="922" y="835.7">10</text><text class="y" x="922" y="872.3">6</text>
</g>

<!-- ================= X LABELS ================= -->
<g>
<text class="x1" x="93" y="200">9.VI</text><text class="x1" x="147.7" y="200">23.VI</text><text class="x1" x="201.7" y="200">7.VII</text><text class="x1" x="257.7" y="200">21.VII</text><text class="x1" x="312.3" y="200">4.VIII</text><text class="x1" x="366.7" y="200">18.VIII</text><text class="x1" x="421.7" y="200">1.IX</text>
<text class="x1" x="514.7" y="200">9.VI</text><text class="x1" x="569.4" y="200">23.VI</text><text class="x1" x="624" y="200">7.VII</text><text class="x1" x="678.7" y="200">21.VII</text><text class="x1" x="733.4" y="200">4.VIII</text><text class="x1" x="788" y="200">18.VIII</text><text class="x1" x="842.7" y="200">1.IX</text>
<text class="x1" x="935.7" y="200">9.VI</text><text class="x1" x="990.4" y="200">23.VI</text><text class="x1" x="1045" y="200">7.VII</text><text class="x1" x="1099.7" y="200">21.VII</text><text class="x1" x="1154.4" y="200">4.VIII</text><text class="x1" x="1209" y="200">18.VIII</text><text class="x1" x="1263.7" y="200">1.IX</text>

<text class="x2" x="93.3" y="432.3">21</text><text class="x2" x="116.8" y="432.3">22</text><text class="x2" x="140.2" y="432.3">23</text><text class="x2" x="163.7" y="432.3">24</text><text class="x2" x="187.1" y="432.3">25</text><text class="x2" x="210.6" y="432.3">26</text><text class="x2" x="234.1" y="432.3">27</text><text class="x2" x="257.5" y="432.3">28</text><text class="x2" x="281" y="432.3">29</text><text class="x2" x="304.4" y="432.3">30</text><text class="x2" x="327.9" y="432.3">31</text><text class="x2" x="351.4" y="432.3">32</text><text class="x2" x="374.8" y="432.3">33</text><text class="x2" x="398.3" y="432.3">34</text><text class="x2" x="421.7" y="432.3">35</text>
<text class="x2" x="514.3" y="432.3">21</text><text class="x2" x="537.8" y="432.3">22</text><text class="x2" x="561.2" y="432.3">23</text><text class="x2" x="584.7" y="432.3">24</text><text class="x2" x="608.1" y="432.3">25</text><text class="x2" x="631.6" y="432.3">26</text><text class="x2" x="655" y="432.3">27</text><text class="x2" x="678.5" y="432.3">28</text><text class="x2" x="701.9" y="432.3">29</text><text class="x2" x="725.4" y="432.3">30</text><text class="x2" x="748.8" y="432.3">31</text><text class="x2" x="772.3" y="432.3">32</text><text class="x2" x="795.7" y="432.3">33</text><text class="x2" x="819.2" y="432.3">34</text><text class="x2" x="842.6" y="432.3">35</text>
<text class="x2" x="946.7" y="432.3">21</text><text class="x2" x="969.2" y="432.3">22</text><text class="x2" x="991.8" y="432.3">23</text><text class="x2" x="1014.3" y="432.3">24</text><text class="x2" x="1036.9" y="432.3">25</text><text class="x2" x="1059.4" y="432.3">26</text><text class="x2" x="1082" y="432.3">27</text><text class="x2" x="1104.5" y="432.3">28</text><text class="x2" x="1127.1" y="432.3">29</text><text class="x2" x="1149.6" y="432.3">30</text><text class="x2" x="1172.2" y="432.3">31</text><text class="x2" x="1194.7" y="432.3">32</text><text class="x2" x="1217.3" y="432.3">33</text><text class="x2" x="1239.8" y="432.3">34</text><text class="x2" x="1262.4" y="432.3">35</text>

<text class="x3" x="103.3" y="664.3">III.03</text><text class="x3" x="143.1" y="664.3">V.03</text><text class="x3" x="183" y="664.3">VII.03</text><text class="x3" x="222.8" y="664.3">IX.03</text><text class="x3" x="262.7" y="664.3">XI.03</text><text class="x3" x="302.5" y="664.3">I.04</text><text class="x3" x="342.3" y="664.3">III.04</text><text class="x3" x="382.2" y="664.3">V.04</text><text class="x3" x="422" y="664.3">VII.04</text>
<text class="x3" x="524.3" y="664.3">III.03</text><text class="x3" x="564.1" y="664.3">V.03</text><text class="x3" x="603.9" y="664.3">VII.03</text><text class="x3" x="643.7" y="664.3">IX.03</text><text class="x3" x="683.5" y="664.3">XI.03</text><text class="x3" x="723.3" y="664.3">I.04</text><text class="x3" x="763.1" y="664.3">III.04</text><text class="x3" x="802.9" y="664.3">V.04</text><text class="x3" x="842.7" y="664.3">VII.04</text>
<text class="x3" x="938" y="664.3">III.03</text><text class="x3" x="978.8" y="664.3">V.03</text><text class="x3" x="1019.5" y="664.3">VII.03</text><text class="x3" x="1060.3" y="664.3">IX.03</text><text class="x3" x="1101" y="664.3">XI.03</text><text class="x3" x="1141.8" y="664.3">I.04</text><text class="x3" x="1182.5" y="664.3">III.04</text><text class="x3" x="1223.3" y="664.3">V.04</text><text class="x3" x="1264" y="664.3">VII.04</text>

<text class="x4" x="136.7" y="897.7">2001</text><text class="x4" x="235" y="897.7">2002</text><text class="x4" x="350" y="897.7">2003</text><text class="x4" x="417.7" y="897.7">2004</text>
<text class="x4" x="558" y="897.7">2001</text><text class="x4" x="657" y="897.7">2002</text><text class="x4" x="771" y="897.7">2003</text><text class="x4" x="839" y="897.7">2004</text>
<text class="x4" x="980" y="897.7">2001</text><text class="x4" x="1077.5" y="897.7">2002</text><text class="x4" x="1191.5" y="897.7">2003</text><text class="x4" x="1259" y="897.7">2004</text>
</g>
</svg>
</body></html>
